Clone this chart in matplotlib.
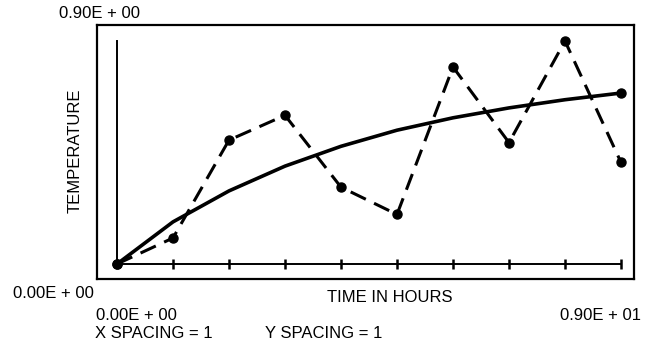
import matplotlib.pyplot as plt

hours = [0, 1, 2, 3, 4, 5, 6, 7, 8, 9]
measured = [0.0, 0.105, 0.50, 0.60, 0.31, 0.20, 0.795, 0.49, 0.90, 0.41]
fitted = [0.0, 0.17, 0.295, 0.395, 0.475, 0.54, 0.59, 0.63, 0.663, 0.69]
y_top = 0.9

W, H = 645, 345


def fx(px):
    return px / W


def fy(py):
    return 1 - py / H


plt.rcParams['font.family'] = ['Liberation Sans', 'DejaVu Sans']

fig = plt.figure(figsize=(6.45, 3.45), dpi=100)
ax = fig.add_axes([fx(97), fy(279), fx(634) - fx(97), fy(25) - fy(279)])

# x: 0 -> px 117, 9 -> px 621 ; y: 0 -> px 264, 0.9 -> px 41
sx = (621 - 117) / 9
sy = (264 - 41) / 0.9
ax.set_xlim(-(117 - 97) / sx, 9 + (634 - 621) / sx)
ax.set_ylim(-(279 - 264) / sy, y_top + (41 - 25) / sy)

for s in ax.spines.values():
    s.set_linewidth(1.6)
ax.set_xticks([])
ax.set_yticks([])

# inner axes
ax.plot([hours[0], hours[0]], [0, y_top], color='black', lw=1.4)
ax.plot([hours[0], hours[-1]], [0, 0], color='black', lw=1.4)
ax.plot(hours[1:], [0] * (len(hours) - 1), linestyle='none', marker='|',
        markersize=6.5, markeredgewidth=1.8, color='black')

ax.plot(hours, fitted, color='black', lw=2.6, solid_joinstyle='round')
ax.plot([hours[0], hours[-1]], [fitted[0], fitted[-1]], linestyle='none',
        marker='o', markersize=6.5, color='black')
ax.plot(hours, measured, color='black', lw=2.2, linestyle=(0, (5.5, 3)),
        marker='o', markersize=6.5)

fs = 12
fig.text(fx(99), fy(13), '0.90E + 00', ha='center', va='center', fontsize=fs)
fig.text(fx(53), fy(294), '0.00E + 00', ha='center', va='center', fontsize=fs)
fig.text(fx(390), fy(297), 'TIME IN HOURS', ha='center', va='center', fontsize=fs)
fig.text(fx(136), fy(315), '0.00E + 00', ha='center', va='center', fontsize=fs)
fig.text(fx(600), fy(315), '0.90E + 01', ha='center', va='center', fontsize=fs)
fig.text(fx(95), fy(334), 'X SPACING = 1', ha='left', va='center', fontsize=fs)
fig.text(fx(265), fy(334), 'Y SPACING = 1', ha='left', va='center', fontsize=fs)
fig.text(fx(75), fy(151), 'TEMPERATURE', ha='center', va='center',
         fontsize=fs, rotation=90)

fig.savefig('out.png', dpi=100)
